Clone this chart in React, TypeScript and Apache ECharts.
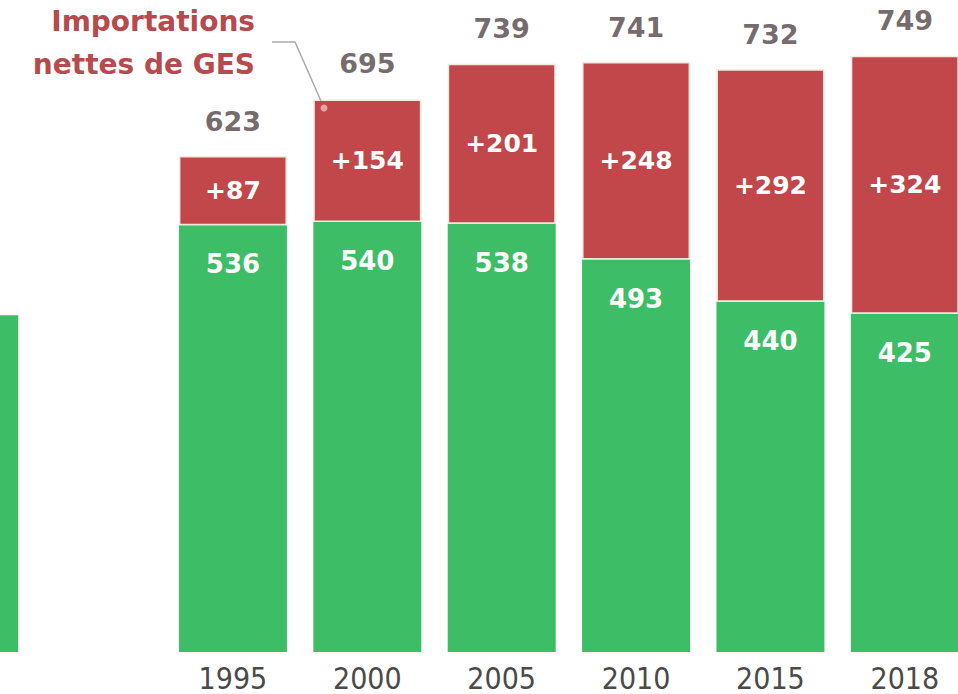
import React, { useEffect, useRef } from "react";
import * as echarts from "echarts";

const years = ["1990", "", "1995", "2000", "2005", "2010", "2015", "2018"];
const domestic = [423, null, 536, 540, 538, 493, 440, 425];
const imports = [null, null, 87, 154, 201, 248, 292, 324];
const totals = [null, null, 623, 695, 739, 741, 732, 749];
const annotation = "Importations\nnettes de GES";

const GREEN = "#3dbe66";
const RED = "#c1474b";
const BOLD_FONT = "'DejaVu Sans', 'Open Sans', sans-serif";
const SHIFT = 103;

export default function App() {
  const ref = useRef<HTMLDivElement>(null);
  useEffect(() => {
    if (!ref.current) return;
    const chart = echarts.init(ref.current, null, { renderer: "svg" });
    chart.setOption({
      animation: false,
      backgroundColor: "#ffffff",
      grid: { left: 0, right: 0, top: 0, bottom: 42, containLabel: false },
      xAxis: {
        type: "category",
        data: years,
        axisLine: { show: false },
        axisTick: { show: false },
        axisLabel: {
          margin: 12,
          fontSize: 30,
          lineHeight: 28,
          color: "#4a4a4a",
          fontFamily: "'Liberation Sans Narrow', 'DejaVu Sans Condensed', sans-serif",
        },
      },
      yAxis: { type: "value", min: 0, max: 819, show: false, splitLine: { show: false } },
      series: [
        {
          name: "domestic",
          type: "bar",
          stack: "t",
          data: domestic,
          barWidth: 108,
          itemStyle: { color: GREEN },
          label: {
            show: true,
            position: "insideTop",
            distance: 26,
            color: "#ffffff",
            fontSize: 26,
            fontWeight: "bold",
            fontFamily: BOLD_FONT,
            formatter: "{c}",
          },
        },
        {
          name: "imports",
          type: "bar",
          stack: "t",
          data: imports,
          barWidth: 108,
          itemStyle: { color: RED, borderColor: "#f3e9dc", borderWidth: 1.5 },
          label: {
            show: true,
            position: "inside",
            color: "#ffffff",
            fontSize: 25,
            fontWeight: "bold",
            fontFamily: BOLD_FONT,
            formatter: (p: any) => "+" + p.value,
          },
        },
        {
          name: "total",
          type: "scatter",
          data: totals,
          symbolSize: 1,
          itemStyle: { color: "rgba(0,0,0,0)" },
          label: {
            show: true,
            position: "top",
            distance: 21,
            color: "#504346",
            fontSize: 27,
            fontWeight: "bold",
            fontFamily: BOLD_FONT,
            formatter: "{c}",
          },
        },
      ],
      graphic: [
        {
          type: "text",
          x: 255 + SHIFT,
          y: 0,
          style: {
            text: annotation,
            align: "right",
            verticalAlign: "top",
            fill: "#b64a4c",
            fontSize: 28,
            fontWeight: "bold",
            lineHeight: 43,
            fontFamily: BOLD_FONT,
          },
        },
        {
          type: "polyline",
          shape: { points: [[272 + SHIFT, 42], [295 + SHIFT, 42], [321 + SHIFT, 101]] },
          style: { stroke: "#aaaaaa", lineWidth: 1.5, fill: "none" },
          z: 10,
        },
        {
          type: "circle",
          shape: { cx: 324 + SHIFT, cy: 108, r: 3.5 },
          style: { fill: "#e8a3a3" },
          z: 10,
        },
      ],
    });
    return () => chart.dispose();
  }, []);
  return (
    <div
      ref={ref}
      style={{ position: "fixed", left: -SHIFT, top: 0, width: 1075, height: 694 }}
    />
  );
}
